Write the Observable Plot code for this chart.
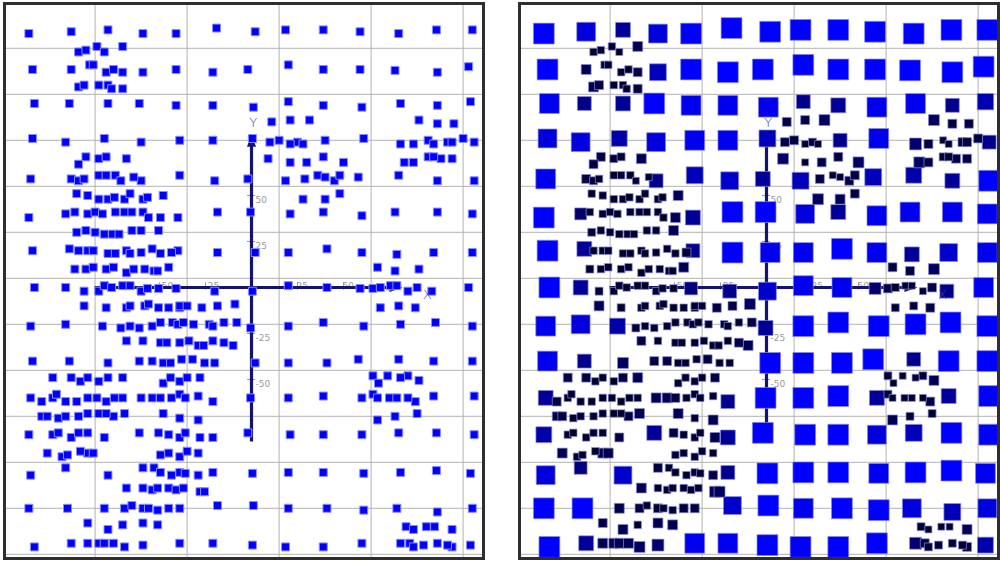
<!DOCTYPE html>
<html><head><meta charset="utf-8">
<script src="https://cdn.jsdelivr.net/npm/d3@7"></script>
<script src="https://cdn.jsdelivr.net/npm/@observablehq/plot@0.6"></script>
<style>
html,body{margin:0;padding:0;background:#fff;width:1000px;height:562px;overflow:hidden;}
.panel{position:absolute;top:2px;width:476px;height:552px;border:3px solid #2e2e2e;overflow:hidden;background:#fff;}
#left{left:3px;} #right{left:518px;}
</style></head><body>
<div id="left" class="panel"></div><div id="right" class="panel"></div>
<script>
// [x, y, weight] — regular lattice of points
const gridPoints = [
[-121,138,84],[-98,139,76],[-78,140,60],[-59,138,76],[-41,138,84],[-19,141,84],[2,139,84],[18.5,140,84],[39,140,84],[59,139,84],[80,138,84],[100.5,140,84],[120,140,84],
[-119,118.5,84],[-98,118.5,40],[-79,117,30],[-59,117,68],[-41,118.5,84],[-21,117,84],[-2,118.5,84],[20,121,84],[39,118.5,84],[59,118.5,84],[78,118,84],[101,117,84],[118,120,84],
[-118,100,80],[-99,100,56],[-78,100,60],[-61,100,84],[-41,99,80],[-21,99,80],[1,98,80],[20,101,56],[39,99,60],[60,98,80],[81,100,80],[101,99,56],[119,101,66],
[-119,81,76],[-101,79,76],[-80,81,64],[-60,79,76],[-39,80,80],[-21,80,80],[0.5,81,68],[40,80,56],[61,81,80],[81,78,48],[121,79,56],
[-120,59,80],[-98,59,36],[-60,58,56],[-39,61,68],[-20,58,72],[-2,59,60],[18.5,58,68],[58,60,68],[80,61,64],[101,58,60],[121,58,84],
[-121,38,84],[-101,40,48],[-40,38,60],[-18.5,41,84],[-0.5,41,84],[21,40,76],[39,41,60],[60,39,80],[78,41,80],[101,41,80],[120,40,80],
[-119,20,84],[-99,21,60],[-40,20,56],[-18.5,19,84],[2,19,80],[20,19,80],[41,21,84],[60,19,80],[79,18,60],[99,19,72],[120,19,80],
[-118,0,84],[-101,0,60],[-41,-0.5,52],[-20,-2,56],[0.5,-2,72],[20,1,80],[41,0,80],[59,-0.5,48],[98,-2,56],[118,0,80],
[-120,-21,80],[-101,-20,76],[-81,-21,64],[-0.5,-22,60],[20,-21,84],[39,-19,84],[61,-21,84],[81,-20,84],[100,-19,84],[120,-21,84],
[-119,-40,80],[-99,-40,56],[-78,-41,44],[-61,-40,36],[2,-41,84],[20,-41,84],[41,-41,84],[58,-39,84],[80,-39,56],[99,-40,84],[120,-40,84],
[-120,-60,60],[-21,-62,56],[-0.5,-60,84],[20,-60,84],[39,-59,84],[60,-60,60],[99,-59,60],[121,-59,84],
[-121,-80,64],[-61,-79,60],[-21,-81.5,60],[-2,-79,84],[21,-80,84],[39,-80,84],[60,-80,76],[80,-79,68],[100.5,-79,84],[121,-80,84],
[-120,-102,76],[-101,-98,52],[-78,-102,72],[-21,-100.5,56],[0.5,-101,84],[20,-100.5,84],[39,-100.5,84],[61,-101,80],[81,-100.5,84],[100.5,-99.5,84],[119,-101,80],
[-121,-120,84],[-100,-120,84],[-18.5,-118.5,72],[1,-118.5,84],[20,-120,80],[41,-120,84],[61,-121,84],[79,-120,76],[101,-122,68],[120,-120,76],
[-118,-141,84],[-98,-139,60],[-59,-140,48],[-39,-139,80],[-21,-139,80],[0.5,-140,84],[18.5,-141,84],[39,-141,84],[60,-139,84],[81,-139,48],[119,-140,64]
];
// [x, y, weight] — clustered points
const clusterPoints = [
[-94,128,30],[-90,129,30],[-84,131,30],[-80,128,28],[-70,131,40],[-88,121,30],[-86,121,30],[-75,118.5,30],[-70,117,36],[-94,109,40],[-91,110,36],[-83,110,30],[-78,110,30],[-76,108,30],[-70,108,36],
[-90,71,36],[-94,67,36],[-83,70,32],[-79,71,32],[-68,70,40],[-94,58,32],[-91,59,30],[-83,61,30],[-79,61,30],[-74,61,30],[-71,58,28],[-64,60,28],
[-95,51,30],[-89,50,30],[-83,48,30],[-78,48,30],[-74.5,49,30],[-69,48,30],[-66,51,30],[-59,48,30],[-56.5,49,30],[-48,50,40],
[-96,41,30],[-89,40,30],[-85,41,30],[-81,40,30],[-74,41,30],[-69,41,30],[-65,41,30],[-59,41,30],[-56,38,30],[-49.5,38,40],
[-95,30,32],[-90,31,30],[-85,30,30],[-80,29,30],[-75.5,29,30],[-72,29,30],[-65,31,30],[-60,31,30],[-50.5,31,40],
[-94,20,30],[-89,20,30],[-86,20,30],[-78,18.5,30],[-74,18.5,30],[-68,20,30],[-66,18.5,30],[-60,19,30],[-54,21,30],[-49.5,18.5,30],[-43.5,19,36],
[-96,10,32],[-90,10,30],[-86,11,30],[-79,10,30],[-75,11,30],[-68,8,30],[-64,10,30],[-58,10,30],[-53,9,30],[-51,9,30],[-45,11,40],
[-91,-2,32],[-83,-2,30],[-80,1,30],[-76,0,30],[-70,1,30],[-66,1,30],[-60,-2,30],[-56.5,-0.5,30],[-50.5,-0.5,30],
[-91,-10,40],[-79,-11,32],[-68,-11,30],[-66,-10,30],[-58,-10,30],[-56,-9,30],[-50.5,-11,30],[-45,-11,30],[-39,-11,30],[-39,-10,30],[-35,-10,30],[-27,-11,36],[-18.5,-10,36],[-9,-9,44],
[-71,-22,32],[-66,-21,30],[-61,-22,30],[-54,-21,30],[-49.5,-19,30],[-43,-19,30],[-40,-20,30],[-37,-19,30],[-31.5,-20,30],[-23,-20,30],[-21,-21,30],[-15,-19,30],[-8,-19,36],
[-68,-29,36],[-59,-29,30],[-49.5,-30,30],[-46,-30,30],[-39,-30,30],[-34,-29,30],[-29,-31.5,30],[-26,-31.5,30],[-21,-29,30],[-15,-30,36],[-10,-31.5,40],
[-54,-40,36],[-48,-41,30],[-44,-41,30],[-38,-39,30],[-32,-39,36],[-25.5,-41,30],[-20,-41,30],
[-108,-49,36],[-98,-49,36],[-93,-51,30],[-89,-49,30],[-83,-51,30],[-78,-49,36],[-70,-49,40],[-48,-52,30],[-44,-49,30],[-39,-51,30],[-35,-49,30],[-28,-49,36],
[-114,-62,36],[-108,-60,30],[-106,-58,30],[-101,-62,30],[-95,-62,30],[-89,-60,30],[-84,-60,30],[-79,-62,30],[-74.5,-60,30],[-70,-60,30],[-60,-60,40],[-54,-60,40],[-49.5,-60,36],[-43.5,-60,30],[-39,-58,30],[-36,-60,30],[-29,-59,30],
[-114,-70,36],[-111,-70,36],[-105,-71,30],[-101,-70,30],[-94,-70,30],[-89,-68.5,30],[-83,-68.5,30],[-79,-68.5,30],[-75,-70,36],[-69,-68.5,40],[-48,-68.5,40],[-39,-71,30],[-29,-72,40],
[-108,-80,30],[-105,-79,30],[-98,-81.5,30],[-94,-79,30],[-89,-79,30],[-80,-81.5,36],[-50.5,-79,36],[-45,-80,30],[-39,-81.5,30],[-36,-79,30],[-28,-81.5,40],
[-111,-90,40],[-103,-92,30],[-100,-91,30],[-93,-89,30],[-89,-90,40],[-86,-90,40],[-49.5,-91,30],[-45,-90,30],[-39,-92,30],[-35,-89,30],[-29,-90,30],
[-59,-98,36],[-53,-98,30],[-49.5,-100.5,30],[-43.5,-102,30],[-39,-100.5,30],[-36,-101,30],[-29,-102,36],
[-68,-109,40],[-59,-109,30],[-54,-110,30],[-51,-109,30],[-45,-109,30],[-41,-110,30],[-37,-109,30],[-28,-111,44],[-25.5,-111,44],
[-80,-120,40],[-69,-120,36],[-65,-118.5,30],[-59,-120,36],[-56,-120,30],[-51,-121,30],[-45,-120,36],[-39,-120,36],
[-89,-128,36],[-78,-131.5,40],[-70,-129,30],[-59,-128,40],[-51,-129,40],
[-89,-139,40],[-83,-139,40],[-80,-139,40],[-75,-139,40],[-69,-141,44],
[11,90,36],[21,91,36],[31.5,91,44],[91,91,44],[101,89,36],[110,89,36],
[10,79,36],[15,80,36],[21,78,28],[25,79,32],[28,78,28],[88,78,36],[96,80,28],[99,78,28],[106.5,79,36],[109,79,36],[115,81,36],
[9,70,44],[21,68,28],[30,68,36],[39,71,36],[50,68,44],[83,68,44],[88,68,36],[96,71,32],[99,71,32],[103,70,36],[109,70,36],
[29,59,36],[36,61,28],[40,60,28],[45,58,36],[48,61,36],[28,48,44],[40,48,40],[48,51,36],
[68.5,11,36],[78,9,36],[91,10,44],[66,-0.5,36],[70,0,32],[75.5,1,28],[79,1,28],[85,-2,28],[90,0,36],[70,-11,32],[80,-10,32],[89,-11,36],
[66,-48,32],[69,-52,28],[74,-48,28],[81,-49,28],[85,-48,32],[91,-50.5,40],[66,-58,32],[68.5,-60,28],[75,-60,28],[79,-60,28],[85,-60,28],[89,-62,36],[68.5,-72,40],[78,-70,32],[90,-68.5,32],
[84,-130,32],[88,-131.5,28],[95,-130,28],[99.5,-130,28],[109,-131.5,40],[86,-139,36],[88,-141,32],[93.5,-140,32],[101,-139,32],[106.5,-140,32],[109,-141,36]
];
const gridXs = [-85, -35, 15, 65, 115];
const gridYs = [130, 105, 80, 55, 30, 5, -20, -45, -70, -95, -120, -145];
const xTicks = [-50, -25, 25, 50];
const yTicks = [-50, -25, 25, 50];
const xAxisExtent = [-85, 78.5];
const yAxisExtent = [-84, 80];
const axisLabels = [{t: "X", x: 95.6, y: -3.8}, {t: "Y", x: 1, y: 89.7}];
const xDomain = [-133.15, 125.54];
const yDomain = [-146.74, 153.26];

const points = [...gridPoints, ...clusterPoints]
  .map(([x, y, w]) => ({x, y, w}))
  .sort((a, b) => b.w - a.w);

const arrowHead = {
  draw(ctx, size) {
    const r = Math.sqrt(size / Math.PI);
    ctx.moveTo(0, -1.3 * r);
    ctx.lineTo(0.9 * r, 1.3 * r);
    ctx.lineTo(-0.9 * r, 1.3 * r);
    ctx.closePath();
  }
};

const AX = "#14146e";

function panel(sized) {
  const dotOpts = sized
    ? {x: "x", y: "y", r: "w", fill: "w", symbol: "square", stroke: "#8a8ad8", strokeWidth: 1, strokeOpacity: 0.7}
    : {x: "x", y: "y", r: 4.5, fill: "#0000ff", symbol: "square", stroke: "#8c8cff", strokeWidth: 1};
  return Plot.plot({
    width: 476, height: 552, margin: 0,
    style: {background: "#fff", overflow: "hidden"},
    x: {domain: xDomain, axis: null},
    y: {domain: yDomain, axis: null},
    r: {type: "linear", domain: [0, 100], range: [0, 14]},
    color: {type: "linear", domain: [30, 60, 84], range: ["#00002e", "#000099", "#0000ff"], clamp: true},
    marks: [
      Plot.ruleX(gridXs, {stroke: "#b2b2b2", strokeWidth: 1}),
      Plot.ruleY(gridYs, {stroke: "#b2b2b2", strokeWidth: 1}),
      Plot.ruleY(yTicks, {x1: -2.2, x2: 2.2, stroke: "#9a9a9a", strokeWidth: 1}),
      Plot.text(yTicks, {x: 0, y: d => d, text: d => String(d), dx: 4, dy: 5, textAnchor: "start", fill: "#9a9a9a", fontSize: 9, fontFamily: "DejaVu Sans"}),
      Plot.ruleX(xTicks, {y1: -1.5, y2: 2.5, stroke: "#9a9a9a", strokeWidth: 1}),
      Plot.text(xTicks, {x: d => d, y: 0, text: d => String(d), dx: -1, dy: -1, textAnchor: "start", fill: "#9a9a9a", fontSize: 9, fontFamily: "DejaVu Sans"}),
      Plot.ruleY([0], {x1: xAxisExtent[0], x2: xAxisExtent[1], stroke: AX, strokeWidth: 3.2}),
      Plot.ruleX([0], {y1: yAxisExtent[0], y2: yAxisExtent[1], stroke: AX, strokeWidth: 3.2}),
      Plot.dot([xAxisExtent[1]], {x: d => d, y: 0, symbol: arrowHead, r: 5, rotate: 90, fill: AX}),
      Plot.dot([yAxisExtent[1]], {x: 0, y: d => d, symbol: arrowHead, r: 5, fill: AX}),
      Plot.dot(points, dotOpts),
      Plot.text(axisLabels, {x: "x", y: "y", text: "t", fill: "#3b3bb0", fontSize: 13, fontFamily: "DejaVu Sans", fontWeight: 300})
    ]
  });
}

document.getElementById("left").append(panel(false));
document.getElementById("right").append(panel(true));
</script>
</body></html>
